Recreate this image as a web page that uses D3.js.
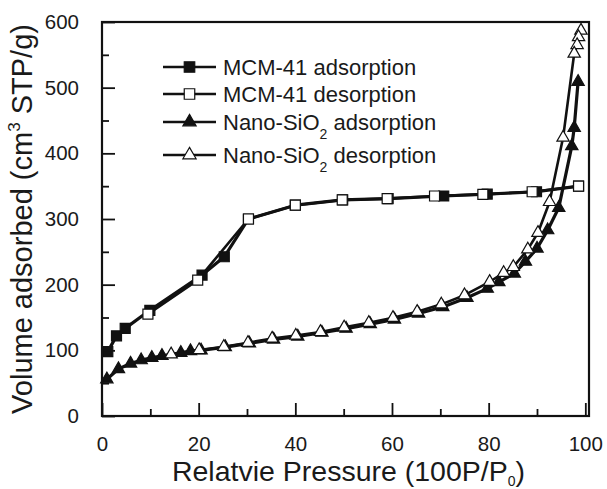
<!DOCTYPE html>
<html>
<head>
<meta charset="utf-8">
<script src="https://cdn.jsdelivr.net/npm/d3@7"></script>
<style>
  html, body { margin: 0; padding: 0; background: #fff; }
  svg { display: block; }
  text { font-family: "Liberation Sans", Arial, Helvetica, sans-serif; fill: #1a1a1a; }
</style>
</head>
<body>
<svg id="chart" width="607" height="489"></svg>
<script>
// ---- data ----
const mcmAdsX = [1.2, 3, 4.8, 9.9, 20.7, 25.3, 30.3, 40, 49.8, 59.2, 70.7, 79.7, 89.9, 98.6];
const mcmAdsY = [98, 122, 133.5, 161, 214.6, 242.5, 300, 321, 329, 331, 335, 338, 341.5, 350];

const mcmDesX = [98.6, 89, 78.8, 68.8, 59, 49.7, 40, 30.3, 19.8, 9.5];
const mcmDesY = [350, 341.5, 337.5, 335, 331, 329, 321, 300, 207, 155];

const nanoAdsX = [1, 3.4, 5.9, 8.1, 10.3, 12.4, 16.3, 18.3, 20.5, 25.5, 30.5, 35.5, 40.5, 45.5, 50.5, 55.5, 60.5, 65.5, 70.5, 75.5, 79.7, 82.1, 85.3, 87.6, 90, 92.2, 94.5, 97.2, 97.7, 98.5];
const nanoAdsY = [56, 71.5, 80, 85, 88.7, 91.8, 96.3, 99, 100, 105, 110.5, 116.5, 121, 127, 133, 140, 147, 156, 166, 180, 194, 204, 217, 235, 255, 283, 317, 411, 439, 509];

const nanoDesX = [99.1, 98.6, 98.3, 97.7, 95.4, 92.6, 90.2, 88.1, 85.1, 83.1, 80.2, 75, 70.2, 65.2, 60.2, 55.2, 50.1, 45.2, 40.1, 35.2, 30.2, 25.2, 20.1, 14.3];
const nanoDesY = [587, 577, 565, 552, 424, 326, 279, 253.7, 227, 218, 204.4, 184, 170, 158.8, 149.6, 142, 135, 128, 122.5, 118, 111.6, 105.5, 100.5, 94];

const xTickLabels = [0, 20, 40, 60, 80, 100];
const yTickLabels = [0, 100, 200, 300, 400, 500, 600];
const xMinorTicks = [10, 30, 50, 70, 90];
const yMinorTicks = [50, 150, 250, 350, 450, 550];

const seriesNames = ["MCM-41 adsorption", "MCM-41 desorption", "Nano-SiO", "Nano-SiO"];

// ---- chart ----
const svg = d3.select("#chart");
const pL = 102, pR = 589, pT = 22, pB = 416;
const x = d3.scaleLinear().domain([0, 100.76]).range([pL, pR]);
const y = d3.scaleLinear().domain([0, 600]).range([pB, pT]);

const ink = "#111";

const series = [
  { xs: mcmAdsX, ys: mcmAdsY, shape: d3.symbolSquare, size: 100, fill: ink, lw: 3.2 },
  { xs: nanoAdsX, ys: nanoAdsY, shape: d3.symbolTriangle, size: 66, fill: ink, lw: 3.2 },
  { xs: mcmDesX, ys: mcmDesY, shape: d3.symbolSquare, size: 100, fill: "#fff", lw: 2.6 },
  { xs: nanoDesX, ys: nanoDesY, shape: d3.symbolTriangle, size: 66, fill: "#fff", lw: 2.6 }
];

const line = d3.line().x(d => x(d[0])).y(d => y(d[1]));

series.forEach(s => {
  const pts = s.xs.map((v, i) => [v, s.ys[i]]);
  svg.append("path")
    .attr("d", line(pts))
    .attr("fill", "none")
    .attr("stroke", ink)
    .attr("stroke-width", s.lw)
    .attr("stroke-linejoin", "round");
});
series.forEach(s => {
  const pts = s.xs.map((v, i) => [v, s.ys[i]]);
  svg.append("g").selectAll("path").data(pts).join("path")
    .attr("transform", d => `translate(${x(d[0])},${y(d[1])})`)
    .attr("d", d3.symbol().type(s.shape).size(s.size))
    .attr("fill", s.fill)
    .attr("stroke", ink)
    .attr("stroke-width", 1.2);
});

// axes (inward ticks)
const xAxis = d3.axisBottom(x).tickValues(xTickLabels).tickSizeInner(-13).tickSizeOuter(0).tickPadding(20);
const gx = svg.append("g").attr("transform", `translate(0,${pB})`).call(xAxis);
gx.select(".domain").remove();
gx.selectAll(".tick line").attr("stroke", ink).attr("stroke-width", 1.8);
gx.selectAll("text").attr("font-size", 20.5).attr("font-family", "Liberation Sans, Arial, sans-serif").attr("fill", "#1a1a1a");

const gxm = svg.append("g").attr("transform", `translate(0,${pB})`)
  .call(d3.axisBottom(x).tickValues(xMinorTicks).tickSizeInner(-7).tickSizeOuter(0).tickFormat(""));
gxm.select(".domain").remove();
gxm.selectAll(".tick line").attr("stroke", ink).attr("stroke-width", 1.8);

const yAxis = d3.axisLeft(y).tickValues(yTickLabels).tickSizeInner(-13).tickSizeOuter(0).tickPadding(23);
const gy = svg.append("g").attr("transform", `translate(${pL},0)`).call(yAxis);
gy.select(".domain").remove();
gy.selectAll(".tick line").attr("stroke", ink).attr("stroke-width", 1.8);
gy.selectAll("text").attr("font-size", 20.5).attr("font-family", "Liberation Sans, Arial, sans-serif").attr("fill", "#1a1a1a");

const gym = svg.append("g").attr("transform", `translate(${pL},0)`)
  .call(d3.axisLeft(y).tickValues(yMinorTicks).tickSizeInner(-7).tickSizeOuter(0).tickFormat(""));
gym.select(".domain").remove();
gym.selectAll(".tick line").attr("stroke", ink).attr("stroke-width", 1.8);

// frame
svg.append("rect")
  .attr("x", pL).attr("y", pT)
  .attr("width", pR - pL).attr("height", pB - pT)
  .attr("fill", "none").attr("stroke", ink).attr("stroke-width", 2.2);

// axis titles
const xt = svg.append("text")
  .attr("x", (pL + pR) / 2 + 3).attr("y", 481)
  .attr("text-anchor", "middle").attr("font-size", 28.5);
xt.append("tspan").text("Relatvie Pressure (100P/P");
xt.append("tspan").text("0").attr("font-size", 14).attr("dy", 5);
xt.append("tspan").text(")").attr("dy", -5);

const yt = svg.append("text")
  .attr("transform", `translate(32,${(pT + pB) / 2}) rotate(-90)`)
  .attr("text-anchor", "middle").attr("font-size", 29);
yt.append("tspan").text("Volume adsorbed (cm");
yt.append("tspan").text("3").attr("font-size", 17).attr("dy", -12);
yt.append("tspan").text(" STP/g)").attr("dy", 12);

// legend
const legRows = [67, 94, 122, 155];
const legSeries = [series[0], series[2], series[1], series[3]];
legRows.forEach((ry, i) => {
  const s = legSeries[i];
  const g = svg.append("g");
  g.append("line").attr("x1", 163).attr("x2", 216).attr("y1", ry).attr("y2", ry)
    .attr("stroke", ink).attr("stroke-width", 2.5);
  g.append("path").attr("transform", `translate(189.5,${ry})`)
    .attr("d", d3.symbol().type(s.shape).size(s.size + 10))
    .attr("fill", s.fill).attr("stroke", ink).attr("stroke-width", 1.2);
  const t = g.append("text").attr("x", 223).attr("y", ry + 8).attr("font-size", 22);
  if (i < 2) {
    t.text(seriesNames[i]);
  } else {
    t.append("tspan").text(seriesNames[i]);
    t.append("tspan").text("2").attr("font-size", 14).attr("dy", 9);
    t.append("tspan").text(i === 2 ? " adsorption" : " desorption").attr("dy", -9);
  }
});
</script>
</body>
</html>
